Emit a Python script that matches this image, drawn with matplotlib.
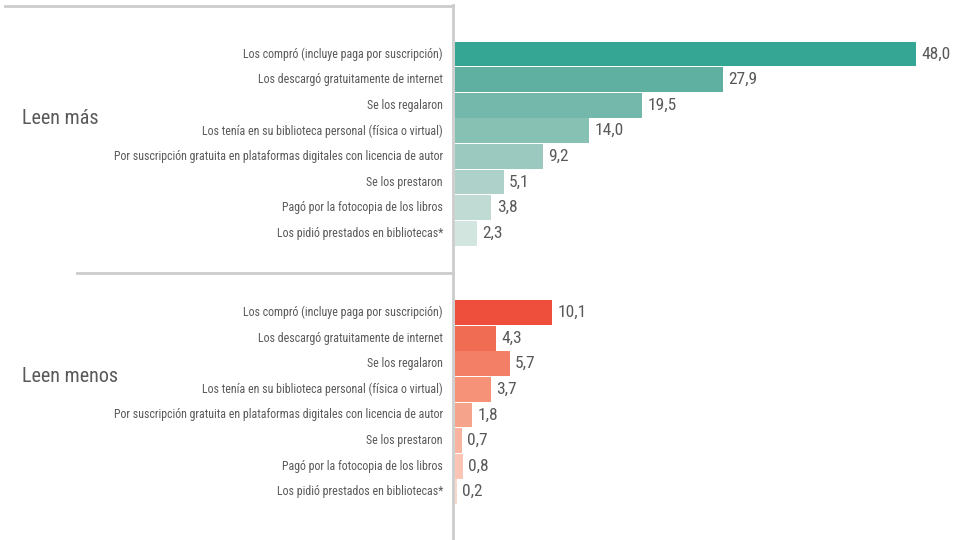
import matplotlib.pyplot as plt
from matplotlib.lines import Line2D

categorias = [
    "Los compró (incluye paga por suscripción)",
    "Los descargó gratuitamente de internet",
    "Se los regalaron",
    "Los tenía en su biblioteca personal (física o virtual)",
    "Por suscripción gratuita en plataformas digitales con licencia de autor",
    "Se los prestaron",
    "Pagó por la fotocopia de los libros",
    "Los pidió prestados en bibliotecas*",
]
leen_mas = [48.0, 27.9, 19.5, 14.0, 9.2, 5.1, 3.8, 2.3]
leen_menos = [10.1, 4.3, 5.7, 3.7, 1.8, 0.7, 0.8, 0.2]
grupos = ["Leen más", "Leen menos"]

verdes = ["#36a694", "#5fb0a0", "#73b8aa", "#87c1b4", "#9bc9bf", "#aed2c9", "#bfdbd3", "#d2e5df"]
rojos = ["#ee4f3d", "#f06c53", "#f38066", "#f59277", "#f6a38c", "#f8b4a0", "#fac5b4", "#fcd7cb"]

fuente = ["Roboto Condensed", "Liberation Sans Narrow", "DejaVu Sans"]
gris = "#595959"

W, H = 954, 540
fig = plt.figure(figsize=(W / 100, H / 100), dpi=100)

# axes: left edge at bar origin, 9.6 px per unit
x0 = 455
ax = fig.add_axes([x0 / W, 0, 50 * 9.6 / W, 1])
ax.set_xlim(0, 50)
paso = 25.6
ax.set_ylim((H - 54) / paso, -54 / paso)
ax.axis("off")

offset_grupo = [0, 10.1]
for g, (vals, cols) in enumerate([(leen_mas, verdes), (leen_menos, rojos)]):
    pos = [offset_grupo[g] + i for i in range(len(vals))]
    ax.barh(pos, vals, height=0.97, color=cols)
    for p, v, c in zip(pos, vals, categorias):
        ax.text(v + 0.55, p, f"{v:.1f}".replace(".", ","), va="center", ha="left",
                fontsize=12.5, color=gris, family=fuente)
        ax.annotate(c, xy=(0, p), xytext=(-12, 0), textcoords="offset pixels",
                    ha="right", va="center", fontsize=8.6, color=gris, family=fuente)
    mid = offset_grupo[g] + 2.5
    ax.annotate(grupos[g], xy=(0, mid), xycoords="data", xytext=(22, 0),
                textcoords=("figure pixels", "offset pixels"),
                ha="left", va="center", fontsize=14.5, color=gris, family=fuente)

lc = "#cccccc"
fig.add_artist(Line2D([453 / W, 453 / W], [0, 1 - 5 / H], color=lc, lw=2))
fig.add_artist(Line2D([5 / W, 453 / W], [1 - 6 / H, 1 - 6 / H], color=lc, lw=2))
fig.add_artist(Line2D([77 / W, 453 / W], [1 - 273 / H, 1 - 273 / H], color=lc, lw=2))

fig.savefig("out.png", dpi=100)
